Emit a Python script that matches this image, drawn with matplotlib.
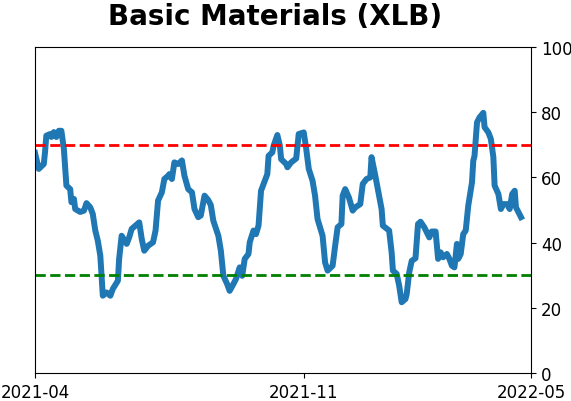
import pandas as pd
import matplotlib
matplotlib.use('Agg')
import matplotlib.pyplot as plt
import matplotlib.dates as mdates

dates = [
    '2021-04-01', '2021-04-04', '2021-04-08', '2021-04-09', '2021-04-10', '2021-04-13',
    '2021-04-14', '2021-04-16', '2021-04-18', '2021-04-20', '2021-04-22', '2021-04-24',
    '2021-04-26', '2021-04-29', '2021-04-30', '2021-05-02', '2021-05-03', '2021-05-07',
    '2021-05-10', '2021-05-12', '2021-05-15', '2021-05-17', '2021-05-19', '2021-05-21',
    '2021-05-23', '2021-05-24', '2021-05-25', '2021-05-28', '2021-05-31', '2021-06-02',
    '2021-06-06', '2021-06-07', '2021-06-09', '2021-06-13', '2021-06-15', '2021-06-17',
    '2021-06-20', '2021-06-23', '2021-06-25', '2021-06-27', '2021-06-30', '2021-07-04',
    '2021-07-06', '2021-07-08', '2021-07-11', '2021-07-13', '2021-07-16', '2021-07-17',
    '2021-07-19', '2021-07-21', '2021-07-24', '2021-07-27', '2021-07-29', '2021-08-01',
    '2021-08-04', '2021-08-06', '2021-08-09', '2021-08-11', '2021-08-14', '2021-08-17',
    '2021-08-19', '2021-08-21', '2021-08-25', '2021-08-27', '2021-08-29', '2021-09-01',
    '2021-09-03', '2021-09-06', '2021-09-08', '2021-09-11', '2021-09-13', '2021-09-15',
    '2021-09-18', '2021-09-19', '2021-09-22', '2021-09-24', '2021-09-26', '2021-09-28',
    '2021-10-03', '2021-10-04', '2021-10-07', '2021-10-08', '2021-10-11', '2021-10-13',
    '2021-10-14', '2021-10-18', '2021-10-19', '2021-10-22', '2021-10-26', '2021-10-28',
    '2021-11-01', '2021-11-03', '2021-11-05', '2021-11-08', '2021-11-10', '2021-11-12',
    '2021-11-16', '2021-11-18', '2021-11-20', '2021-11-24', '2021-11-26', '2021-11-28',
    '2021-12-01', '2021-12-02', '2021-12-04', '2021-12-07', '2021-12-10', '2021-12-12',
    '2021-12-16', '2021-12-18', '2021-12-21', '2021-12-24', '2021-12-25', '2021-12-28',
    '2021-12-30', '2022-01-02', '2022-01-03', '2022-01-08', '2022-01-10', '2022-01-11',
    '2022-01-14', '2022-01-16', '2022-01-18', '2022-01-21', '2022-01-22', '2022-01-24',
    '2022-01-26', '2022-01-29', '2022-01-31', '2022-02-02', '2022-02-05', '2022-02-09',
    '2022-02-11', '2022-02-14', '2022-02-16', '2022-02-18', '2022-02-20', '2022-02-23',
    '2022-02-25', '2022-02-27', '2022-03-01', '2022-03-03', '2022-03-04', '2022-03-06',
    '2022-03-08', '2022-03-10', '2022-03-12', '2022-03-15', '2022-03-16', '2022-03-17',
    '2022-03-19', '2022-03-21', '2022-03-24', '2022-03-25', '2022-03-28', '2022-03-30',
    '2022-04-01', '2022-04-02', '2022-04-05', '2022-04-07', '2022-04-09', '2022-04-12',
    '2022-04-14', '2022-04-16', '2022-04-18', '2022-04-19', '2022-04-23',
]
values = [
    67.5, 62.6, 64.1, 67.8, 72.8, 73.3,
    72.4, 73.9, 72.4, 74.3, 74.3, 68.7,
    57.5, 56.4, 52.4, 53.4, 50.3, 49.4,
    49.8, 52.1, 50.8, 48.8, 43.7, 40.6,
    36.0, 29.8, 23.7, 24.7, 23.7, 25.8,
    28.3, 35.0, 42.1, 39.6, 41.6, 44.2,
    45.2, 46.2, 41.1, 37.5, 39.0, 40.1,
    43.7, 52.9, 55.4, 59.5, 60.5, 61.0,
    59.5, 64.6, 64.1, 65.2, 60.5, 56.4,
    55.4, 50.3, 47.8, 48.3, 54.4, 53.0,
    51.5, 46.7, 42.1, 37.5, 29.8, 27.3,
    25.2, 27.3, 28.8, 32.4, 29.8, 35.0,
    36.5, 40.1, 43.7, 42.6, 45.2, 55.9,
    61.0, 66.6, 67.7, 69.7, 73.0, 69.7,
    65.6, 64.1, 63.1, 64.6, 65.8, 73.3,
    73.8, 68.7, 62.6, 59.0, 54.4, 47.2,
    42.1, 33.9, 31.4, 32.9, 39.0, 44.7,
    45.7, 54.4, 56.4, 53.8, 49.8, 50.8,
    51.8, 58.0, 59.5, 60.0, 66.2, 60.5,
    56.4, 50.3, 45.2, 43.7, 37.0, 31.4,
    30.4, 26.8, 21.7, 22.7, 24.2, 30.9,
    34.4, 35.2, 45.7, 46.4, 44.7, 41.6,
    43.4, 43.4, 35.0, 37.0, 35.5, 36.5,
    35.0, 32.9, 32.4, 39.6, 35.0, 36.5,
    42.6, 43.7, 51.3, 58.5, 65.1, 66.6,
    76.9, 78.4, 79.8, 75.4, 73.8, 71.8,
    66.2, 57.5, 54.9, 50.3, 51.8, 51.8,
    50.3, 54.9, 55.9, 50.8, 47.8,
]
upper_level = 70
lower_level = 30
tick_dates = ['2021-04-01', '2021-11-01', '2022-05-01']

dt = pd.to_datetime(dates)
ticks = pd.to_datetime(tick_dates)

fig = plt.figure(figsize=(5.71, 4.02), dpi=100)
ax = fig.add_axes([0.0613, 0.0697, 0.8687, 0.8109])
ax.plot(dt, values, color='#1f77b4', linewidth=4.3)
ax.axhline(upper_level, color='red', linestyle='--', linewidth=2)
ax.axhline(lower_level, color='green', linestyle='--', linewidth=2)

ax.set_xlim(ticks[0], ticks[-1])
ax.set_ylim(0, 100)
ax.set_xticks(ticks)
ax.xaxis.set_major_formatter(mdates.DateFormatter('%Y-%m'))
ax.yaxis.tick_right()
ax.set_yticks([0, 20, 40, 60, 80, 100])
ax.tick_params(labelsize=12)
ax.set_title('Basic Materials (XLB)', fontsize=20, fontweight='bold',
             pad=16.5, x=0.484)

fig.savefig('out.png', dpi=100)
